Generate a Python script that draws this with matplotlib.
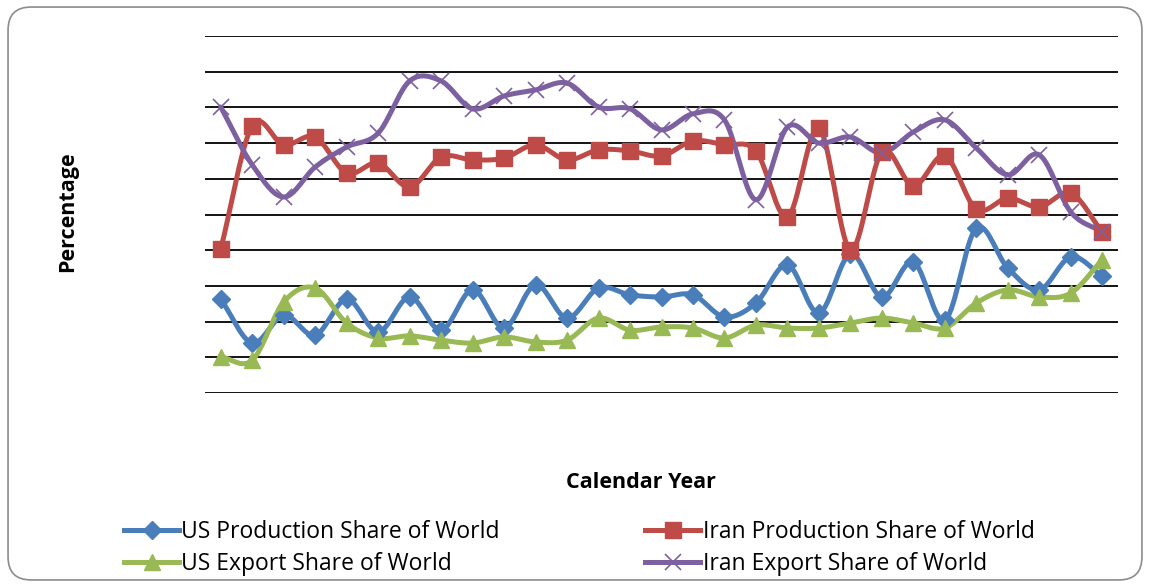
import numpy as np
import matplotlib
matplotlib.use("Agg")
from matplotlib import pyplot as plt
from matplotlib.patches import FancyBboxPatch
from matplotlib.lines import Line2D

plt.rcParams['font.family'] = ['Open Sans', 'DejaVu Sans']

# Year index (tick labels are not shown on the original chart)
years = list(range(29))

us_production = [2.63, 1.40, 2.18, 1.62, 2.63, 1.71, 2.69, 1.76, 2.89, 1.82,
                 3.03, 2.10, 2.94, 2.75, 2.69, 2.75, 2.13, 2.52, 3.59, 2.24,
                 3.89, 2.69, 3.67, 2.04, 4.62, 3.50, 2.89, 3.81, 3.28]
iran_production = [4.03, 7.48, 6.95, 7.17, 6.16, 6.44, 5.77, 6.61, 6.53, 6.58,
                   6.95, 6.53, 6.81, 6.78, 6.64, 7.06, 6.95, 6.78, 4.93, 7.42,
                   4.01, 6.75, 5.80, 6.64, 5.15, 5.46, 5.21, 5.60, 4.51]
us_export = [1.01, 0.92, 2.55, 2.94, 1.96, 1.54, 1.60, 1.48, 1.40, 1.57,
             1.43, 1.48, 2.10, 1.76, 1.85, 1.82, 1.54, 1.90, 1.82, 1.82,
             1.96, 2.10, 1.96, 1.82, 2.52, 2.89, 2.69, 2.80, 3.73]
iran_export = [8.01, 6.39, 5.49, 6.33, 6.89, 7.28, 8.74, 8.74, 7.96, 8.32,
               8.49, 8.68, 8.01, 7.96, 7.37, 7.82, 7.65, 5.41, 7.45, 7.00,
               7.17, 6.72, 7.31, 7.65, 6.86, 6.11, 6.67, 5.07, 4.51]

labels = ["US Production Share of World", "US Export Share of World",
          "Iran Production Share of World", "Iran Export Share of World"]
series = [us_production, us_export, iran_production, iran_export]
colors = ["#4A7EBB", "#98B954", "#BE4B48", "#7D60A0"]
markers = ["D", "^", "s", "x"]
msizes = [9, 12, 12, 11]


def smooth(x, y, n=20):
    # Catmull-Rom curve through the points, like Excel's smoothed line
    x = np.asarray(x, float)
    y = np.asarray(y, float)
    px = np.concatenate([[2 * x[0] - x[1]], x, [2 * x[-1] - x[-2]]])
    py = np.concatenate([[2 * y[0] - y[1]], y, [2 * y[-1] - y[-2]]])
    t = np.linspace(0, 1, n)
    xs, ys = [], []
    for i in range(1, len(px) - 2):
        for p, out in ((px, xs), (py, ys)):
            p0, p1, p2, p3 = p[i - 1], p[i], p[i + 1], p[i + 2]
            out.extend(0.5 * (2 * p1 + (-p0 + p2) * t
                              + (2 * p0 - 5 * p1 + 4 * p2 - p3) * t ** 2
                              + (-p0 + 3 * p1 - 3 * p2 + p3) * t ** 3))
    return xs, ys


fig = plt.figure(figsize=(11.5, 5.87), dpi=100)
border = FancyBboxPatch((0.007, 0.012), 0.986, 0.976, boxstyle="round,pad=0,rounding_size=0.02",
                        transform=fig.transFigure, facecolor="none", edgecolor="#8C8C8C",
                        linewidth=1.2, mutation_aspect=1150 / 587, zorder=10)
fig.patches.append(border)

ax = fig.add_axes([205 / 1150, 1 - 393 / 587, (1118 - 205) / 1150, (393 - 36) / 587])
ax.set_facecolor("none")
ax.set_xlim(-0.5, len(years) - 0.5)
ax.set_ylim(0, 10)
ax.set_yticks(np.arange(0, 11, 1))
ax.grid(axis="y", color="black", linewidth=1.3)
ax.set_axisbelow(True)
ax.tick_params(left=False, bottom=False, labelleft=False, labelbottom=False)
for s in ax.spines.values():
    s.set_visible(False)

handles = []
for vals, c, m, ms, lab in zip(series, colors, markers, msizes, labels):
    sx, sy = smooth(years, vals)
    ax.plot(sx, sy, color=c, linewidth=3.6, solid_capstyle="round", zorder=3, clip_on=False)
    if m == "x":
        ax.plot(years, vals, linestyle="none", marker=m, color=c, markersize=ms,
                markeredgewidth=1.2, zorder=4, clip_on=False)
    else:
        ax.plot(years, vals, linestyle="none", marker=m, color=c, markersize=ms, zorder=4,
                clip_on=False)
    handles.append(Line2D([], [], color=c, linewidth=3.6, marker=m, markersize=ms,
                          markeredgewidth=1.2 if m == "x" else 1))

fig.text(68 / 1150, 1 - 212 / 587, "Percentage", rotation=90, ha="center", va="center",
         fontsize=15.5, fontweight="bold")
fig.text(641 / 1150, 1 - 483 / 587, "Calendar Year", ha="center", va="center",
         fontsize=15.5, fontweight="bold")

fig.legend(handles, labels, ncol=2, loc="center left", bbox_to_anchor=(124 / 1150, 1 - 548 / 587),
           frameon=False, fontsize=16.5, handlelength=2.4, handletextpad=0.1,
           columnspacing=6.35, labelspacing=0.38, borderaxespad=0, borderpad=0)

fig.savefig("out.png", dpi=100)
